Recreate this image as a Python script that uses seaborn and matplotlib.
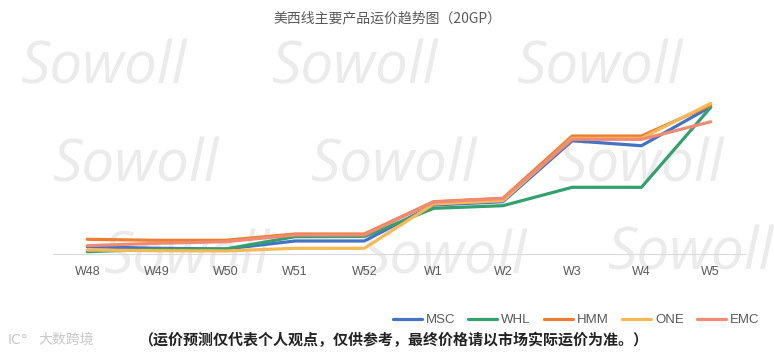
import numpy as np
import pandas as pd
import matplotlib.pyplot as plt
import seaborn as sns

# week labels and freight index per carrier (relative units)
weeks = ["W48", "W49", "W50", "W51", "W52", "W1", "W2", "W3", "W4", "W5"]
msc = [7.3, 5.7, 5.0, 13.0, 13.0, 49.0, 52.3, 113.3, 108.3, 147.3]
whl = [2.3, 4.7, 5.0, 17.3, 17.5, 45.7, 48.3, 66.7, 66.7, 146.7]
hmm = [14.7, 13.7, 13.7, 20.0, 20.0, 52.3, 55.7, 118.0, 118.0, 149.0]
one = [4.0, 3.3, 3.0, 5.7, 5.7, 50.0, 53.3, 115.7, 115.7, 150.7]
emc = [8.3, 10.7, 12.3, 19.0, 19.0, 52.0, 55.5, 114.7, 114.7, 132.3]

carriers = ["MSC", "WHL", "HMM", "ONE", "EMC"]
colors = ["#4472C4", "#34A06E", "#ED7D31", "#F7B955", "#F08A72"]

df = pd.DataFrame({"MSC": msc, "WHL": whl, "HMM": hmm, "ONE": one, "EMC": emc})
df["pos"] = np.arange(len(weeks))
long_df = df.melt(id_vars="pos", var_name="carrier", value_name="price")

sns.set_style("white")
plt.rcParams["font.family"] = ["Noto Sans CJK SC", "DejaVu Sans"]

fig = plt.figure(figsize=(7.74, 3.53), dpi=100)
ax = fig.add_axes([0.068, 0.2805, 0.895, 0.606])

# watermark, drawn behind the axes
wm = [(104, 68), (355, 68), (600, 68), (136, 166), (394, 166), (641, 166),
      (187, 258), (444, 258), (691, 254)]
for x, y in wm:
    fig.text(x / 774, 1 - y / 353, "Sowoll", fontsize=42, color="#ebebeb",
             family="Open Sans", style="italic", ha="center", va="center", zorder=-1)

sns.lineplot(data=long_df, x="pos", y="price", hue="carrier", hue_order=carriers,
             palette=colors, linewidth=2.3, ax=ax)

ax.set_xlim(-0.5, 9.5)
ax.set_ylim(0, 214)
ax.set_xticks(range(len(weeks)))
ax.set_xticklabels(weeks, fontsize=9, color="#595959", family="Liberation Sans")
ax.set_xticks(np.arange(-0.5, 10, 1), minor=True)
ax.tick_params(axis="x", which="major", length=0, pad=9)
ax.tick_params(axis="x", which="minor", length=5, color="#d9d9d9", width=1)
ax.set_yticks([])
ax.set_xlabel("")
ax.set_ylabel("")
for s in ["top", "right", "left"]:
    ax.spines[s].set_visible(False)
ax.spines["bottom"].set_color("#d9d9d9")
ax.patch.set_alpha(0)

ax.legend(loc="center", bbox_to_anchor=(576 / 774, 1 - 320 / 353), bbox_transform=fig.transFigure,
          ncol=5, frameon=False, fontsize=9, handlelength=2.2, columnspacing=1.0, handletextpad=0.3,
          labelcolor="#595959", prop={"family": "Liberation Sans", "size": 9.5})

fig.text(0.5, 1 - 18 / 353, "美西线主要产品运价趋势图（20GP）", ha="center", va="center",
         fontsize=10, color="#595959")
fig.text(138 / 774, 1 - 340 / 353, "（运价预测仅代表个人观点，仅供参考，最终价格请以市场实际运价为准。）",
         ha="left", va="center", fontsize=10.8, color="#222222", style="italic", weight="bold")
fig.text(38 / 774, 1 - 340 / 353, "大数跨境", ha="left", va="center", fontsize=10, color="#c8c8c8")
fig.text(8 / 774, 1 - 340 / 353, "IC°", ha="left", va="center", fontsize=10, color="#c8c8c8",
         family="DejaVu Sans")

fig.savefig("out.png", dpi=100)
